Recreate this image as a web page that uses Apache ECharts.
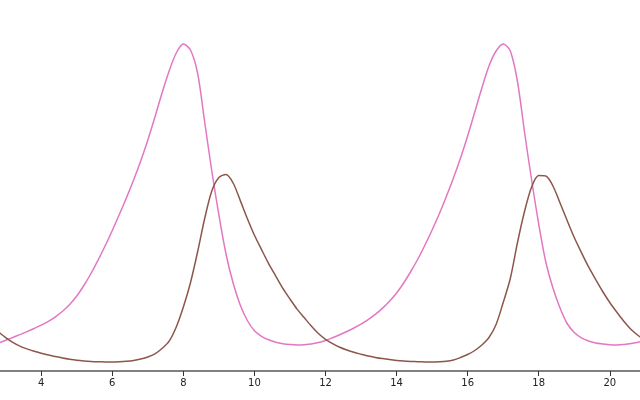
<!DOCTYPE html>
<html>
<head>
<meta charset="utf-8">
<script src="https://cdn.jsdelivr.net/npm/echarts@6/dist/echarts.min.js"></script>
<style>html,body{margin:0;padding:0;background:#fff}#c{width:640px;height:400px}</style>
</head>
<body>
<div id="c"></div>
<script>
// tick labels on the x axis
var xTicks = [4, 6, 8, 10, 12, 14, 16, 18, 20];

// sample times
var times = [
  2.8, 3.0, 3.2, 3.4, 3.6, 3.8, 4.0, 4.2, 4.4, 4.6, 4.8, 5.0, 5.2, 5.4, 5.6, 5.8,
  6.0, 6.2, 6.4, 6.6, 6.8, 7.0, 7.2, 7.4, 7.6, 7.8, 8.0, 8.2, 8.4, 8.6, 8.8,
  9.0, 9.2, 9.4, 9.6, 9.8, 10.0, 10.2, 10.4, 10.6, 10.8, 11.0, 11.2, 11.4, 11.6, 11.8,
  12.0, 12.2, 12.4, 12.6, 12.8, 13.0, 13.2, 13.4, 13.6, 13.8, 14.0, 14.2, 14.4, 14.6, 14.8,
  15.0, 15.2, 15.4, 15.6, 15.8, 16.0, 16.2, 16.4, 16.6, 16.8, 17.0, 17.2, 17.4, 17.6, 17.8,
  18.0, 18.2, 18.4, 18.6, 18.8, 19.0, 19.2, 19.4, 19.6, 19.8, 20.0, 20.2, 20.4, 20.6, 20.8, 21.0
];

// pink series values (one per time)
var pinkValues = [
  2.80, 3.07, 3.35, 3.64, 3.94, 4.25, 4.58, 4.96, 5.42, 5.97, 6.65, 7.50, 8.55, 9.75, 11.08, 12.52,
  14.05, 15.67, 17.34, 19.10, 21.00, 23.10, 25.40, 27.80, 30.00, 31.80, 32.70, 32.10, 29.80, 24.90, 20.00,
  15.60, 11.70, 8.80, 6.60, 5.05, 4.02, 3.47, 3.12, 2.88, 2.73, 2.64, 2.60, 2.63, 2.70, 2.84,
  3.05, 3.33, 3.63, 3.95, 4.30, 4.69, 5.14, 5.66, 6.26, 6.97, 7.80, 8.80, 9.95, 11.20, 12.60,
  14.10, 15.70, 17.45, 19.30, 21.30, 23.50, 25.90, 28.30, 30.50, 32.00, 32.70, 32.00, 29.00, 23.90, 19.10,
  14.70, 10.90, 8.30, 6.30, 4.75, 3.85, 3.32, 3.00, 2.80, 2.70, 2.62, 2.60, 2.65, 2.74, 2.88, 3.05
];

// brown series values (one per time)
var brownValues = [
  3.90, 3.34, 2.87, 2.49, 2.21, 1.97, 1.77, 1.59, 1.44, 1.30, 1.18, 1.08, 1.01, 0.96, 0.93, 0.91,
  0.90, 0.92, 0.97, 1.06, 1.20, 1.40, 1.72, 2.25, 2.98, 4.40, 6.40, 8.83, 11.90, 15.25, 18.00,
  19.35, 19.65, 18.80, 17.06, 15.25, 13.57, 12.14, 10.74, 9.49, 8.26, 7.20, 6.19, 5.34, 4.50, 3.75,
  3.17, 2.74, 2.37, 2.10, 1.87, 1.68, 1.50, 1.36, 1.24, 1.14, 1.06, 1.00, 0.96, 0.93, 0.91,
  0.90, 0.92, 0.97, 1.10, 1.35, 1.65, 2.05, 2.60, 3.35, 4.65, 6.85, 9.25, 12.80, 15.95, 18.40,
  19.55, 19.50, 18.50, 16.80, 15.05, 13.35, 11.86, 10.43, 9.17, 7.95, 6.85, 5.87, 4.95, 4.15, 3.55, 3.05
];

function pairs(vals) {
  return times.map(function (t, i) { return [t, vals[i]]; });
}

var chart = echarts.init(document.getElementById('c'), null, {renderer: 'canvas'});
chart.setOption({
  animation: false,
  backgroundColor: '#ffffff',
  grid: {left: 0, right: 0, top: 0, bottom: 29, containLabel: false},
  xAxis: {
    type: 'value',
    min: 2.84,
    max: 20.85,
    splitLine: {show: false},
    axisLine: {show: true, lineStyle: {color: '#808080', width: 2}},
    axisTick: {show: true, customValues: xTicks, length: 5, lineStyle: {color: '#333333', width: 1}},
    axisLabel: {show: true, customValues: xTicks, color: '#222222', fontSize: 10, fontFamily: 'DejaVu Sans', margin: 7}
  },
  yAxis: {
    type: 'value',
    min: 0,
    max: 37.1,
    show: false,
    splitLine: {show: false}
  },
  series: [
    {type: 'line', data: pairs(pinkValues), showSymbol: false, smooth: 0.3, clip: true,
     lineStyle: {color: '#e377c2', width: 1.5}, itemStyle: {color: '#e377c2'}},
    {type: 'line', data: pairs(brownValues), showSymbol: false, smooth: 0.3, clip: true,
     lineStyle: {color: '#8c564b', width: 1.5}, itemStyle: {color: '#8c564b'}}
  ]
});
</script>
</body>
</html>
